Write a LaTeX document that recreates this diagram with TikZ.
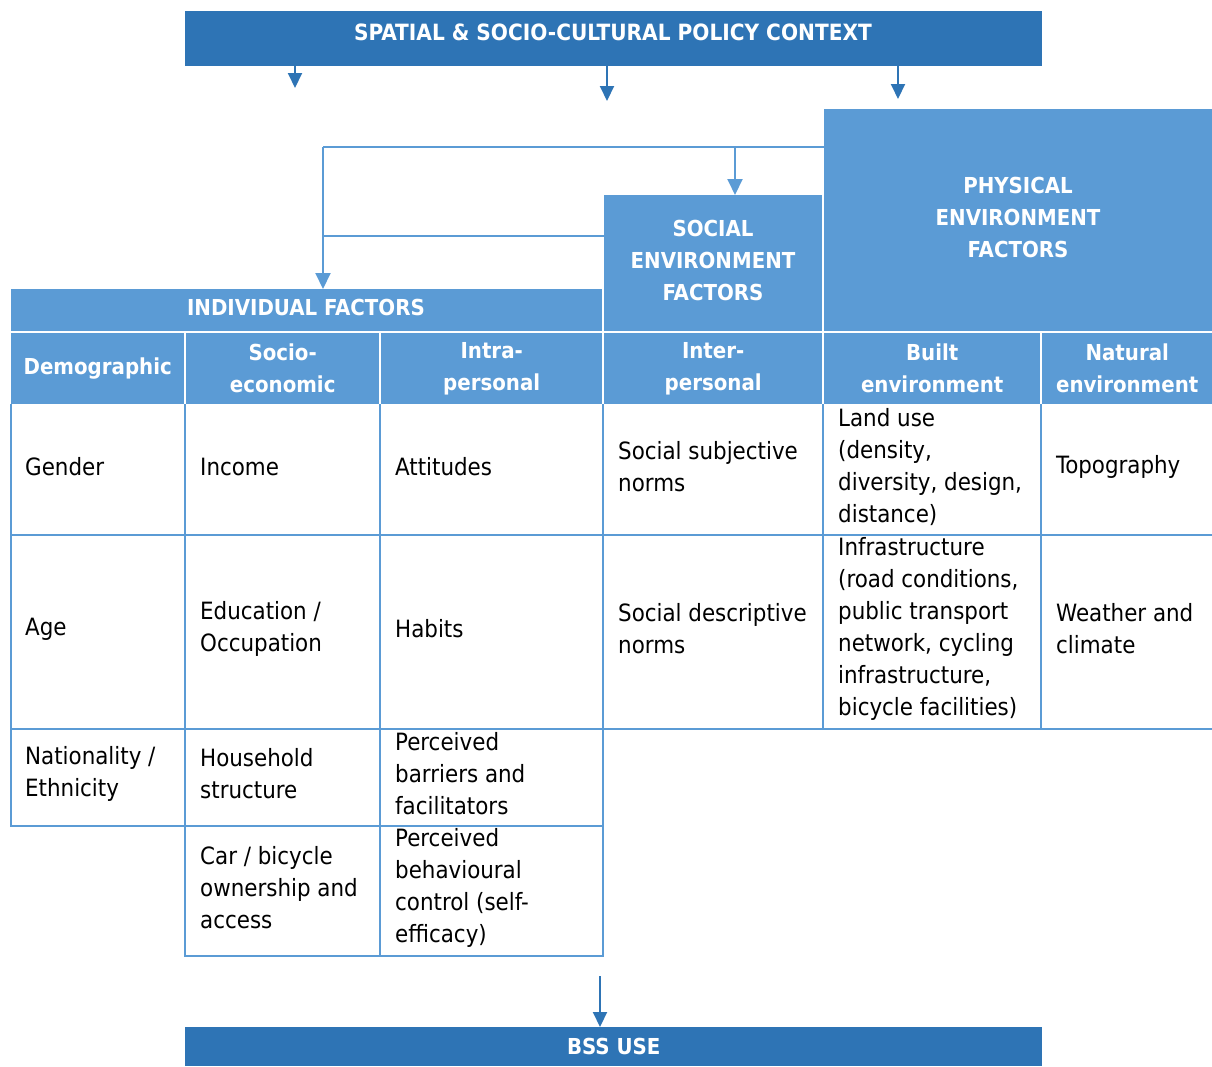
\documentclass[tikz,border=0pt]{standalone}
\usepackage{fontspec}
\setmainfont{DejaVu Sans Condensed}
\usetikzlibrary{arrows.meta,calc}
\definecolor{dblue}{RGB}{46,116,181}
\definecolor{lblue}{RGB}{91,155,213}
\begin{document}
\begin{tikzpicture}[x=1pt,y=-1pt,
  every node/.style={font=\fontsize{22}{32}\selectfont},
  darkbar/.style={fill=dblue,inner sep=0pt,text=white,font=\fontsize{22}{32}\selectfont\bfseries},
  lightbox/.style={fill=lblue,inner sep=0pt,text=white,align=center,font=\fontsize{22}{32}\selectfont\bfseries},
  title/.style={text=white,inner sep=0pt,align=center,font=\fontsize{22}{32}\selectfont\bfseries},
  cell/.style={anchor=west,align=left,inner sep=0pt,text=black,font=\fontsize{23.8}{32}\selectfont},
  grid/.style={draw=lblue,line width=2pt},
  darrow/.style={draw=dblue,line width=2pt,-{Triangle[width=14pt,length=15pt]}},
  larrow/.style={draw=lblue,line width=2pt,-{Triangle[width=15pt,length=16pt]}},
  lline/.style={draw=lblue,line width=2pt}
]
\useasboundingbox (0,0) rectangle (1212,1066);
% top bar
\node[darkbar,minimum width=857pt,minimum height=55pt,anchor=north west] (top) at (185,11) {};
\node[title,font=\fontsize{22.4}{32}\selectfont\bfseries] (toptxt) at (613,32) {SPATIAL \& SOCIO-CULTURAL POLICY CONTEXT};
\coordinate (a1) at (295,88);
\coordinate (a2) at (607,101);
\coordinate (a3) at (898,99);
\draw[darrow] (top.south -| a1) -- (a1);
\draw[darrow] (top.south -| a2) -- (a2);
\draw[darrow] (top.south -| a3) -- (a3);
% physical & social boxes
\node[lightbox,minimum width=388pt,minimum height=222pt,anchor=north west] (phys) at (824,109) {};
\node[title] (physt) at (1018,217) {PHYSICAL\\ENVIRONMENT\\FACTORS};
\node[lightbox,minimum width=218pt,minimum height=136pt,anchor=north west] (soc) at (604,195) {};
\node[title] (soct) at (713,260) {SOCIAL\\ENVIRONMENT\\FACTORS};
\node[lightbox,minimum width=591pt,minimum height=42pt,anchor=north west] (ind) at (11,289) {};
\node[title] (indt) at (306,307) {INDIVIDUAL FACTORS};
% connectors
\coordinate (j1) at (323,147);
\coordinate (j2) at (735,147);
\coordinate (j3) at (323,236);
\draw[lline] (phys.west |- j1) -- (j1);
\draw[larrow] (j1) -- (ind.north -| j1);
\draw[larrow] (j2) -- (soc.north -| j2);
\draw[lline] (soc.west |- j3) -- (j3);
% header cells
\node[lightbox,minimum width=173pt,minimum height=71pt,anchor=north west] (h1) at (11,333) {Demographic};
\node[lightbox,minimum width=193pt,minimum height=71pt,anchor=north west] (h2) at (186,333) {Socio-\\economic};
\node[lightbox,minimum width=221pt,minimum height=71pt,anchor=north west] (h3) at (381,333) {Intra-\\personal};
\node[lightbox,minimum width=218pt,minimum height=71pt,anchor=north west] (h4) at (604,333) {Inter-\\personal};
\node[lightbox,minimum width=216pt,minimum height=71pt,anchor=north west] (h5) at (824,333) {Built\\environment};
\node[lightbox,minimum width=170pt,minimum height=71pt,anchor=north west] (h6) at (1042,333) {Natural\\environment};
% grid lines
\draw[grid] (11,404) -- (11,826);
\draw[grid] (185,404) -- (185,957);
\draw[grid] (380,404) -- (380,957);
\draw[grid] (603,404) -- (603,957);
\draw[grid] (823,404) -- (823,729);
\draw[grid] (1041,404) -- (1041,729);
\draw[grid] (10,535) -- (1212,535);
\draw[grid] (10,729) -- (1212,729);
\draw[grid] (10,826) -- (604,826);
\draw[grid] (184,956) -- (604,956);
% row 1
\node[cell] (c11) at (25,467) {Gender};
\node[cell] (c12) at (200,467) {Income};
\node[cell] (c13) at (395,467) {Attitudes};
\node[cell] (c14) at (618,467) {Social subjective\\norms};
\node[cell] (c15) at (838,467) {Land use\\(density,\\diversity, design,\\distance)};
\node[cell] (c16) at (1056,467) {Topography};
% row 2
\node[cell] (c21) at (25,629) {Age};
\node[cell] (c22) at (200,629) {Education /\\Occupation};
\node[cell] (c23) at (395,629) {Habits};
\node[cell] (c24) at (618,629) {Social descriptive\\norms};
\node[cell] (c25) at (838,629) {Infrastructure\\(road conditions,\\public transport\\network, cycling\\infrastructure,\\bicycle facilities)};
\node[cell] (c26) at (1056,629) {Weather and\\climate};
% row 3
\node[cell] (c31) at (25,774) {Nationality /\\Ethnicity};
\node[cell] (c32) at (200,774) {Household\\structure};
\node[cell] (c33) at (395,774) {Perceived\\barriers and\\facilitators};
% row 4
\node[cell] (c42) at (200,888) {Car / bicycle\\ownership and\\access};
\node[cell] (c43) at (395,888) {Perceived\\behavioural\\control (self-\\efficacy)};
% bottom
\node[darkbar,minimum width=857pt,minimum height=39pt,anchor=north west] (bss) at (185,1027) {BSS USE};
\coordinate (b0) at (600,976);
\draw[darrow] (b0) -- (bss.north -| b0);
\end{tikzpicture}
\end{document}
